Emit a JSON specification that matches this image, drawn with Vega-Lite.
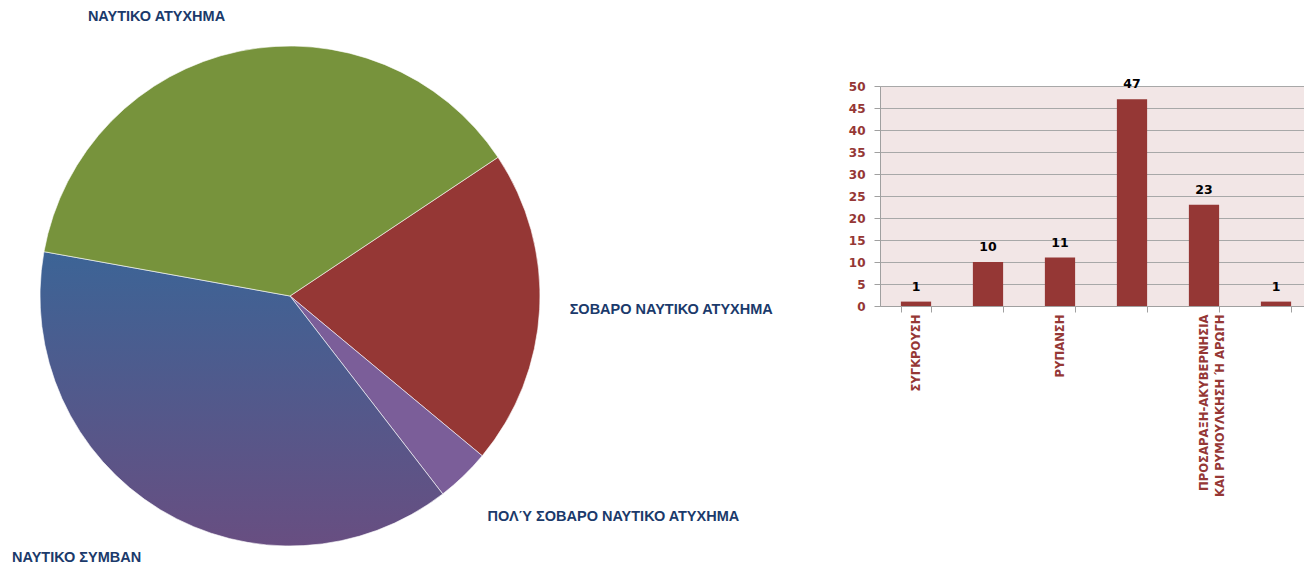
{
  "$schema": "https://vega.github.io/schema/vega-lite/v6.json",
  "padding": 0,
  "background": "white",
  "bounds": "flush",
  "spacing": 300,
  "config": {"view": {"stroke": null}},
  "hconcat": [
    {
      "width": 580,
      "height": 592,
      "data": {"values": [
        {"cat": "ΣΟΒΑΡΟ ΝΑΥΤΙΚΟ ΑΤΥΧΗΜΑ", "value": 20.4},
        {"cat": "ΠΟΛΎ ΣΟΒΑΡΟ ΝΑΥΤΙΚΟ ΑΤΥΧΗΜΑ", "value": 3.5},
        {"cat": "ΝΑΥΤΙΚΟ ΣΥΜΒΑΝ", "value": 38.3},
        {"cat": "ΝΑΥΤΙΚΟ ΑΤΥΧΗΜΑ", "value": 37.8}
      ]},
      "encoding": {
        "theta": {"field": "value", "type": "quantitative", "stack": true, "scale": {"range": [0.9826, 7.2658]}},
        "order": {"field": "cat", "type": "nominal", "sort": "descending"}
      },
      "layer": [
        {
          "mark": {"type": "arc", "outerRadius": 250, "stroke": "#ffffff", "strokeWidth": 0.6},
          "encoding": {
            "color": {
              "condition": {
                "test": "datum.cat === 'ΝΑΥΤΙΚΟ ΣΥΜΒΑΝ'",
                "value": {"gradient": "linear", "x1": 0, "y1": 0, "x2": 0, "y2": 1,
                  "stops": [{"offset": 0, "color": "#3C6496"}, {"offset": 1, "color": "#684E81"}]}
              },
              "field": "cat", "type": "nominal", "legend": null,
              "scale": {
                "domain": ["ΣΟΒΑΡΟ ΝΑΥΤΙΚΟ ΑΤΥΧΗΜΑ", "ΠΟΛΎ ΣΟΒΑΡΟ ΝΑΥΤΙΚΟ ΑΤΥΧΗΜΑ", "ΝΑΥΤΙΚΟ ΣΥΜΒΑΝ", "ΝΑΥΤΙΚΟ ΑΤΥΧΗΜΑ"],
                "range": ["#953735", "#7B5E99", "#4F5A8C", "#77933C"]
              }
            }
          }
        },
        {
          "mark": {"type": "text", "radius": 250, "align": "right", "baseline": "middle", "dx": -14, "dy": -34, "font": "Liberation Sans", "fontWeight": "bold", "fontSize": 14.5, "fill": "#1B3A6B"},
          "encoding": {"text": {"field": "cat"}, "opacity": {"condition": {"test": "datum.cat === 'ΝΑΥΤΙΚΟ ΑΤΥΧΗΜΑ'", "value": 1}, "value": 0}}
        },
        {
          "mark": {"type": "text", "radius": 250, "align": "right", "baseline": "middle", "dx": -19, "dy": 48, "font": "Liberation Sans", "fontWeight": "bold", "fontSize": 14.5, "fill": "#1B3A6B"},
          "encoding": {"text": {"field": "cat"}, "opacity": {"condition": {"test": "datum.cat === 'ΝΑΥΤΙΚΟ ΣΥΜΒΑΝ'", "value": 1}, "value": 0}}
        },
        {
          "mark": {"type": "text", "radius": 250, "align": "left", "baseline": "middle", "dx": 24, "dy": 41, "font": "Liberation Sans", "fontWeight": "bold", "fontSize": 14.5, "fill": "#1B3A6B"},
          "encoding": {"text": {"field": "cat"}, "opacity": {"condition": {"test": "datum.cat === 'ΠΟΛΎ ΣΟΒΑΡΟ ΝΑΥΤΙΚΟ ΑΤΥΧΗΜΑ'", "value": 1}, "value": 0}}
        },
        {
          "mark": {"type": "text", "radius": 250, "align": "left", "baseline": "middle", "dx": 30, "dy": 1, "font": "Liberation Sans", "fontWeight": "bold", "fontSize": 14.5, "fill": "#1B3A6B"},
          "encoding": {"text": {"field": "cat"}, "opacity": {"condition": {"test": "datum.cat === 'ΣΟΒΑΡΟ ΝΑΥΤΙΚΟ ΑΤΥΧΗΜΑ'", "value": 1}, "value": 0}}
        }
      ]
    },
    {
      "bounds": "flush",
      "spacing": 0,
      "vconcat": [
        {
          "width": 432,
          "height": 86,
          "data": {"values": []},
          "mark": "point"
        },
        {
          "width": 432,
          "height": 220,
          "view": {"fill": "#F2E6E6", "stroke": null},
          "data": {"values": [
            {"type": "ΣΥΓΚΡΟΥΣΗ", "count": 1},
            {"type": "ΠΥΡΚΑΓΙΑ-ΕΚΡΗΞΗ", "count": 10},
            {"type": "ΡΥΠΑΝΣΗ", "count": 11},
            {"type": "ΜΗΧΑΝΙΚΗ ΒΛΑΒΗ", "count": 47},
            {"type": "ΠΡΟΣΑΡΑΞΗ-ΑΚΥΒΕΡΝΗΣΙΑ\nΚΑΙ ΡΥΜΟΥΛΚΗΣΗ Ή ΑΡΩΓΗ", "count": 23},
            {"type": "ΒΥΘΙΣΗ", "count": 1}
          ]},
          "encoding": {
            "x": {
              "field": "type", "type": "nominal", "sort": null,
              "scale": {"paddingInner": 0.58, "paddingOuter": 0.29},
              "axis": {
                "title": null, "labelAngle": -90, "labelAlign": "right", "labelBaseline": "middle",
                "labelFont": "DejaVu Sans", "labelFontWeight": "bold", "labelFontSize": 11.6, "labelColor": "#953735",
                "labelExpr": "!datum.value || datum.value == 'ΠΥΡΚΑΓΙΑ-ΕΚΡΗΞΗ' || datum.value == 'ΜΗΧΑΝΙΚΗ ΒΛΑΒΗ' || datum.value == 'ΒΥΘΙΣΗ' ? '' : split(datum.value, '\\n')",
                "labelOverlap": false, "labelLineHeight": 16, "labelPadding": 2, "labelLimit": 400,
                "tickBand": "extent", "tickColor": "#A0A0A0", "tickSize": 6, "domainColor": "#A0A0A0", "grid": false
              }
            },
            "y": {
              "field": "count", "type": "quantitative",
              "scale": {"domain": [0, 50], "nice": false},
              "axis": {
                "title": null, "values": [0, 5, 10, 15, 20, 25, 30, 35, 40, 45, 50],
                "labelFont": "DejaVu Sans", "labelFontWeight": "bold", "labelFontSize": 12, "labelColor": "#953735",
                "labelPadding": 9, "tickSize": 6, "tickColor": "#A0A0A0", "domainColor": "#A0A0A0",
                "grid": true, "gridColor": "#A8A8A8", "gridWidth": 1
              }
            }
          },
          "layer": [
            {"mark": {"type": "bar", "color": "#953735"}},
            {
              "mark": {"type": "text", "dy": -15, "baseline": "middle", "font": "DejaVu Sans", "fontWeight": "bold", "fontSize": 12.5, "color": "#000000"},
              "encoding": {"text": {"field": "count", "type": "quantitative"}}
            }
          ]
        }
      ]
    }
  ]
}
